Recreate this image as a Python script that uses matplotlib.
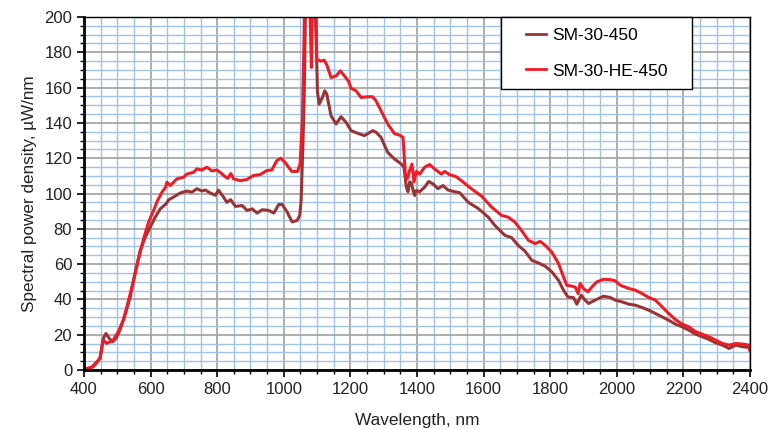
import matplotlib
matplotlib.use('Agg')
import matplotlib.pyplot as plt
from matplotlib.ticker import MultipleLocator
from matplotlib.legend_handler import HandlerLine2D

plt.rcParams['font.family'] = ['Liberation Sans', 'DejaVu Sans']

# SM-30-450 (brown)
wl_a = [400, 420, 438, 448, 458, 466, 476, 486, 496, 508, 523, 539, 554, 569, 584,
        599, 614, 629, 647, 654, 669, 689, 709, 724, 739, 754, 764, 779, 794, 804,
        819, 829, 840, 855, 875, 890, 905, 920, 935, 955, 970, 985, 995, 1010, 1025,
        1040, 1048, 1052, 1057, 1061, 1066, 1075, 1082, 1090, 1097, 1101, 1106, 1116,
        1123, 1129, 1142, 1157, 1172, 1187, 1202, 1222, 1242, 1267, 1277, 1292, 1312,
        1332, 1353, 1361, 1368, 1373, 1378, 1383, 1388, 1393, 1398, 1408, 1423, 1435,
        1448, 1463, 1478, 1493, 1513, 1528, 1554, 1584, 1614, 1634, 1664, 1684, 1704,
        1724, 1745, 1765, 1785, 1805, 1825, 1840, 1853, 1870, 1880, 1893, 1905, 1915,
        1935, 1960, 1980, 1995, 2016, 2036, 2056, 2076, 2096, 2116, 2136, 2156, 2176,
        2196, 2216, 2237, 2257, 2277, 2297, 2317, 2337, 2357, 2377, 2397, 2400]
spd_a = [0.5, 1, 4.5, 6.6, 17.9, 20.7, 17.9, 16, 17.9, 22.6, 31.1, 41.4, 55.5, 67.8, 75.3,
         81, 86.6, 91.3, 94.2, 96.4, 98, 100.3, 101.4, 100.8, 102.7, 101.4, 102, 100.3, 99, 101.9,
         98, 95, 96.5, 92.7, 93.2, 90.4, 91.3, 88.9, 90.8, 90.4, 88.9, 93.8, 93.8, 89.5, 83.9,
         84.7, 87.6, 96, 125, 152.5, 215, 230, 200, 230, 190, 158, 150.6, 154.4,
         158.2, 156.3, 144, 139.4, 143.5, 140.3, 135.6, 134.1, 132.8, 135.6, 134.7, 131.8, 123.3,
         119.6, 116.7, 114.9, 103.6, 101, 106.6, 106, 102, 98.9, 101.7, 101, 103.6, 106.8,
         105.5, 102.7, 104.5, 102, 101, 100.5, 95, 91.5, 86.6, 81.9, 76.3, 75, 70.6,
         67.4, 62.1, 60.6, 58.8, 55.6, 50.8, 45.2, 41.4, 41, 37.3, 42.4, 39.6, 37.7,
         39.6, 41.8, 41.1, 39.6, 38.6, 37.3, 36.7, 35.4, 33.9, 32, 30.1, 28.2, 26,
         24.5, 22.6, 20.3, 18.8, 17.3, 15.4, 14.1, 12.2, 14.1, 13.2, 12.8, 11]

# SM-30-HE-450 (red)
wl_b = [400, 428, 438, 448, 458, 468, 478, 488, 503, 518, 534, 549, 564, 579, 594,
        609, 621, 635, 645, 649, 659, 679, 699, 709, 729, 739, 754, 769, 784, 799,
        809, 824, 832, 841, 849, 869, 889, 909, 929, 949, 964, 979, 991, 1004, 1024,
        1041, 1049, 1056, 1061, 1064, 1075, 1083, 1088, 1095, 1099, 1111, 1121, 1129,
        1142, 1157, 1170, 1182, 1194, 1202, 1217, 1232, 1252, 1267, 1277, 1292, 1312,
        1332, 1351, 1358, 1365, 1371, 1378, 1385, 1391, 1398, 1408, 1423, 1438, 1453,
        1473, 1483, 1498, 1518, 1533, 1564, 1594, 1624, 1654, 1674, 1694, 1714, 1735,
        1755, 1770, 1785, 1805, 1825, 1840, 1850, 1865, 1875, 1884, 1890, 1900, 1913,
        1925, 1940, 1960, 1980, 1995, 2011, 2036, 2056, 2076, 2096, 2116, 2136, 2156,
        2176, 2196, 2216, 2237, 2257, 2277, 2297, 2317, 2337, 2357, 2377, 2397, 2400]
spd_b = [0.5, 1.9, 4.1, 6.6, 17, 15.1, 16, 17, 21.7, 28.2, 39.5, 50.8, 63.1, 74.4, 83.8,
         90.4, 96, 101, 103.5, 106.4, 104.5, 108.3, 109.2, 111, 112, 113.9, 113.3, 114.9, 112.8, 113.3,
         112, 109.5, 108.6, 111.3, 108.3, 107.3, 107.9, 110.2, 110.7, 113, 113.3, 118.6, 120, 117.6, 112.5,
         112.5, 116.7, 142, 190, 230, 230, 171.4, 230, 220, 176, 175, 175.5, 173,
         165.7, 166.6, 169.5, 166.6, 163.8, 159.6, 158.2, 154.4, 154.8, 154.8, 152.5, 146.9, 139.4,
         134, 132.8, 131.8, 111, 108.3, 113, 116.7, 106.6, 112.5, 111, 114.9, 116.4, 113.9,
         111, 112.5, 110.7, 109.5, 107.3, 102.6, 98.5, 92.3, 87.6, 86.6, 83.8, 79, 73.4,
         71.6, 72.9, 70.6, 66.8, 60.3, 52.7, 48, 47.5, 47, 43.3, 49, 46.2, 44.3,
         47, 49.9, 51.4, 51.2, 50.5, 48, 46.2, 45.2, 43.3, 41.1, 39.6, 35.8, 32,
         28.6, 26, 24.5, 21.7, 20.3, 18.8, 16.9, 15, 14.1, 15, 14.7, 14.1, 11.5]

labels = ['SM-30-450', 'SM-30-HE-450']
colors = ['#9a3434', '#ee1c25']

fig = plt.figure(figsize=(7.74, 4.29), dpi=100)
ax = fig.add_axes([0.1085, 0.1375, 0.8605, 0.8229])

ax.plot(wl_a, spd_a, color=colors[0], lw=2.2, label=labels[0], solid_joinstyle='round')
ax.plot(wl_b, spd_b, color=colors[1], lw=2.2, label=labels[1], solid_joinstyle='round')

ax.set_xlim(400, 2400)
ax.set_ylim(0, 200)
ax.xaxis.set_major_locator(MultipleLocator(200))
ax.xaxis.set_minor_locator(MultipleLocator(50))
ax.yaxis.set_major_locator(MultipleLocator(20))
ax.yaxis.set_minor_locator(MultipleLocator(5))

ax.grid(which='minor', color='#9fc2e8', lw=1.0)
ax.grid(which='major', color='#a0a0a0', lw=1.2)
ax.set_axisbelow(True)

ax.tick_params(which='major', direction='out', length=5, width=1.2, labelsize=12,
               colors='black', labelcolor='#222222')
ax.tick_params(which='minor', direction='out', length=3, width=1.0, colors='black')

for side in ['left', 'bottom']:
    ax.spines[side].set_linewidth(2)
for side in ['top', 'right']:
    ax.spines[side].set_linewidth(1)

ax.set_xlabel('Wavelength, nm', fontsize=12.4, color='#222222', labelpad=12)
ax.set_ylabel('Spectral power density, µW/nm', fontsize=12.3, color='#222222', labelpad=5)

leg = ax.legend(loc='upper left', bbox_to_anchor=(0.626, 1.0, 0.287, 0.0), mode='expand',
                borderaxespad=0, fontsize=12.5, handlelength=1.95, handletextpad=0.4,
                labelspacing=1.18, borderpad=0.62, fancybox=False, framealpha=1,
                edgecolor='black',
                handler_map={plt.Line2D: HandlerLine2D(xpad=0.85)})
leg.get_frame().set_linewidth(1.0)
for h in leg.get_lines():
    h.set_linewidth(2.0)

fig.savefig('out.png', dpi=100)
